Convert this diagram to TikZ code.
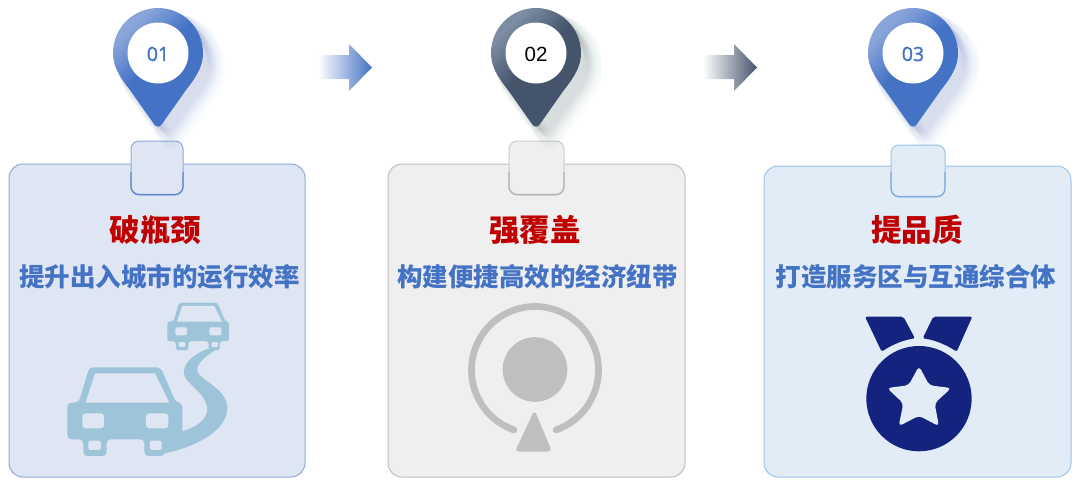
\documentclass[tikz,border=0pt]{standalone}
\usepackage{fontspec}
\setmainfont{Open Sans}
\newfontfamily\numfont[RawFeature={embolden=1.4}]{Open Sans}
\newfontfamily\numfontb{Liberation Sans}
\newfontfamily\cjk{Noto Sans CJK SC}
\usetikzlibrary{calc}
\definecolor{blueA}{HTML}{4472C4}
\definecolor{blueL}{HTML}{8AA5DA}
\definecolor{slateA}{HTML}{44546A}
\definecolor{slateL}{HTML}{7C8CA3}
\definecolor{cardA}{HTML}{DEE6F3}
\definecolor{edgeA}{HTML}{8FAADC}
\definecolor{cardB}{HTML}{EFEFEF}
\definecolor{edgeB}{HTML}{BFBFBF}
\definecolor{cardC}{HTML}{E1ECF7}
\definecolor{edgeC}{HTML}{9DC3E6}
\definecolor{carblue}{HTML}{9EC4DA}
\definecolor{medal}{HTML}{13237E}
\definecolor{titlered}{HTML}{C00000}
\pgfdeclarehorizontalshading{pinblue}{100bp}{color(0bp)=(blueL); color(27bp)=(blueL); color(46bp)=(blueA); color(100bp)=(blueA)}
\pgfdeclarehorizontalshading{pinslate}{100bp}{color(0bp)=(slateL); color(27bp)=(slateL); color(47bp)=(slateA); color(100bp)=(slateA)}
\newcommand{\pinpath}[1]{(#1-4,124) -- (#1-28,90) .. controls (#1-39,76) and (#1-45,66) .. (#1-45,53) arc[start angle=180,end angle=360,radius=45] .. controls (#1+45,66) and (#1+39,76) .. (#1+28,90) -- (#1+4,124) .. controls (#1+1.5,127.5) and (#1-1.5,127.5) .. cycle}
\newcommand{\arrowpath}[1]{(#1,55) -- (#1+31,55) -- (#1+31,44) -- (#1+54,67.5) -- (#1+31,91) -- (#1+31,79) -- (#1,79) -- cycle}
\tikzset{
  x=1pt,y=-1pt,
  cardbox/.style={rounded corners=14pt,line width=1pt},
  tabbox/.style={rounded corners=8pt,line width=1pt},
  titletext/.style={font=\cjk\bfseries\fontsize{30.5}{32}\selectfont,text=titlered,inner sep=0pt},
  subtext/.style={font=\cjk\bfseries\fontsize{25.5}{28}\selectfont,text=blueA,inner sep=0pt},
  numtext/.style={font=\numfont\fontsize{19.5}{21}\selectfont,inner sep=0pt},
  numtextb/.style={font=\numfontb\fontsize{20.5}{22}\selectfont,inner sep=0pt},
  softshadow/.style={fill=#1,draw=#1,opacity=.011,line join=round},
}
\newcommand{\softpin}[2]{%
  \foreach \i in {1,...,16}{
    \path[softshadow=#2,line width=1.0*\i pt,shift={(0.9*\i pt,-0.9*\i pt)}] \pinpath{#1};
  }}
\newcommand{\carshape}[1]{%
  \fill[carblue,rounded corners=#1 pt] (52,338) -- (86,338) -- (118,232) -- (332,232) -- (378,338) -- (397,338) -- (397,448) -- (345,448) -- (345,498) -- (283,498) -- (283,448) -- (170,448) -- (170,498) -- (100,498) -- (100,448) -- (52,448) -- cycle;
  \fill[cardA] (107,338) -- (135,250) -- (315,250) -- (358,338) -- cycle;
  \fill[cardA,rounded corners=.8*#1 pt] (97,370) rectangle (162,415);
  \fill[cardA,rounded corners=.8*#1 pt] (288,370) rectangle (355,415);
  \fill[cardA,rounded corners=.4*#1 pt] (115,452) rectangle (153,480);
  \fill[cardA,rounded corners=.4*#1 pt] (300,452) rectangle (335,480);
}
\begin{document}
\begin{tikzpicture}
\useasboundingbox (0,0) rectangle (1080,490);
\fill[white] (0,0) rectangle (1080,490);

% arrows
\shade[left color=white,right color=blueA] \arrowpath{318};
\shade[left color=white,right color=slateA] \arrowpath{703};

% cards
\path[cardbox,fill=cardA,draw=edgeA] (9,164) rectangle (305,477);
\path[cardbox,fill=cardB,draw=edgeB] (388,164) rectangle (685,477);
\path[cardbox,fill=cardC,draw=edgeC] (764,166) rectangle (1071,477);

% tabs
\path[tabbox,fill=cardA,draw=edgeA] (131,141) rectangle (183,195);
\draw[line width=1.3pt,blueA!85!white,rounded corners=8pt] (131,172) -- (131,194.5) -- (183,194.5) -- (183,172);
\path[tabbox,fill=cardB,draw=edgeB!80!white] (509,141) rectangle (564,195);
\draw[line width=1.2pt,black!30,rounded corners=8pt] (509,172) -- (509,194.5) -- (564,194.5) -- (564,172);
\path[tabbox,fill=cardC,draw=edgeC] (891,145) rectangle (945,197);
\draw[line width=1.2pt,edgeC!70!blueA,rounded corners=8pt] (891,172) -- (891,196.5) -- (945,196.5) -- (945,172);

% pins
\softpin{158}{blueA}
\softpin{536}{slateA}
\softpin{913}{blueA}
\shade[shading=pinblue,shading angle=-45] \pinpath{158};
\shade[shading=pinslate,shading angle=-45] \pinpath{536};
\shade[shading=pinblue,shading angle=-45] \pinpath{913};
\fill[white] (158,53) circle[radius=30.5];
\fill[white] (536,53) circle[radius=30.5];
\fill[white] (913,53) circle[radius=30.5];
\node[numtext,text=blueA] (n1) at (158,54) {01};
\node[numtextb,text=black] (n2) at (536,54) {02};
\node[numtext,text=blueA] (n3) at (913,54) {03};

% texts
\node[titletext] (t1) at (155.5,230) {破瓶颈};
\node[titletext] (t2) at (535,230) {强覆盖};
\node[titletext] (t3) at (917,230) {提品质};
\node[subtext] (s1) at (159.5,277) {提升出入城市的运行效率};
\node[subtext] (s2) at (537.5,277) {构建便捷高效的经济纽带};
\node[subtext] (s3) at (916,277) {打造服务区与互通综合体};

% car icon
\begin{scope}[shift={(50pt,-290pt)},x=0.3333pt,y=-0.3333pt]
  \fill[carblue] (345,490) .. controls (440,470) and (535,420) .. (532,350) .. controls (528,300) and (470,280) .. (445,250) .. controls (430,225) and (470,195) .. (505,175) -- (470,178) .. controls (425,195) and (395,225) .. (403,255) .. controls (410,285) and (472,310) .. (472,360) .. controls (472,385) and (440,415) .. (390,425) -- (345,425) -- cycle;
  \carshape{4}
  \begin{scope}[shift={(324.1,-86.4)},scale=0.536]
    \carshape{2.5}
  \end{scope}
\end{scope}

% ring icon
\draw[line width=6.7pt,edgeB,line cap=round] ($(535,370)+(109.4:63.5)$) arc[start angle=109.4,end angle=430.6,radius=63.5];
\fill[edgeB] (535,369.5) circle[radius=32.3];
\fill[edgeB,rounded corners=4pt] (534.5,410) -- (552,451.5) -- (515,451.5) -- cycle;

% medal icon
\begin{scope}[shift={(850pt,-300pt)},x=0.3333pt,y=-0.3333pt]
  \fill[medal] (207,296) circle[radius=158];
  \fill[cardC,rounded corners=4pt] (207,198) -- (238,256) -- (304,264) -- (254,310) -- (267,379) -- (207,347) -- (146,379) -- (160,310) -- (111,264) -- (176,256) -- cycle;
  \fill[medal,rounded corners=2pt] (45,50) -- (160,50) -- (195,115) .. controls (160,120) and (125,135) .. (95,155) -- cycle;
  \fill[medal,rounded corners=2pt] (250,50) -- (367,50) -- (320,155) .. controls (290,135) and (255,120) .. (218,115) -- cycle;
\end{scope}
\end{tikzpicture}
\end{document}
